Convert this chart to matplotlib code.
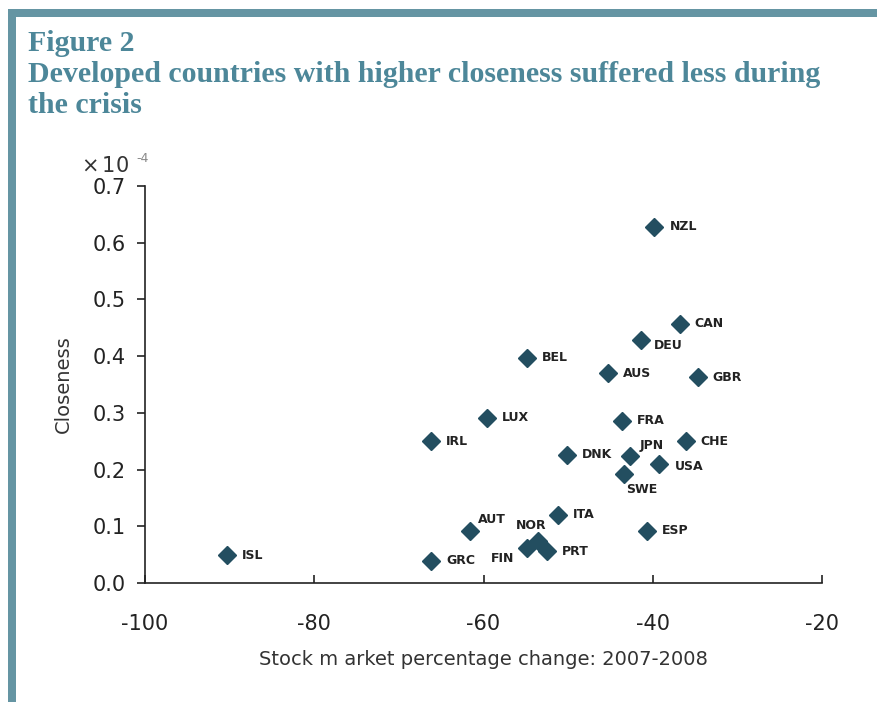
import matplotlib
matplotlib.use("Agg")
import matplotlib.pyplot as plt
from matplotlib.patches import Rectangle

# datos (closeness en unidades de 1e-4)
paises = ["NZL", "CAN", "DEU", "BEL", "AUS", "GBR", "LUX", "FRA", "IRL", "CHE",
          "DNK", "JPN", "USA", "SWE", "ITA", "AUT", "ESP", "NOR", "FIN", "PRT",
          "GRC", "ISL"]
cambio_bolsa = [-39.8, -36.8, -41.4, -54.9, -45.3, -34.7, -59.6, -43.6, -66.2, -36.1,
                -50.1, -42.7, -39.3, -43.4, -51.2, -61.6, -40.7, -53.6, -54.9, -52.5,
                -66.2, -90.3]
closeness = [0.628, 0.457, 0.429, 0.397, 0.370, 0.363, 0.291, 0.286, 0.250, 0.250,
             0.226, 0.224, 0.210, 0.192, 0.120, 0.092, 0.092, 0.074, 0.062, 0.056,
             0.039, 0.049]
xticks = [-100, -80, -60, -40, -20]
yticks = [0.0, 0.1, 0.2, 0.3, 0.4, 0.5, 0.6, 0.7]

# posicion de las etiquetas (pixeles desde el punto)
desplaza = {"DEU": (13, -6, "left"), "JPN": (10, 10, "left"), "USA": (16, -3, "left"),
            "SWE": (2, -15, "left"), "AUT": (8, 11, "left"), "NOR": (-6, 16, "center"),
            "FIN": (-12, -11, "right")}

azul = "#234e60"
borde = "#6595a3"

fig = plt.figure(figsize=(8.77, 7.02), dpi=100)
fig.add_artist(Rectangle((8 / 877, 0), 8 / 877, 1 - 9 / 702, transform=fig.transFigure,
                         color=borde, lw=0))
fig.add_artist(Rectangle((8 / 877, 1 - 17 / 702), 1, 8 / 702, transform=fig.transFigure,
                         color=borde, lw=0))

titulo = ["Figure 2", "Developed countries with higher closeness suffered less during",
          "the crisis"]
for i, linea in enumerate(titulo):
    fig.text(28 / 877, 1 - (51 + 31 * i) / 702, linea, fontsize=21.5, fontweight="bold",
             family="Liberation Serif", color="#4d8799", va="baseline", ha="left")

ax = fig.add_axes([145 / 877, 1 - 583 / 702, 677 / 877, 397 / 702])
ax.plot(cambio_bolsa, closeness, linestyle="none", marker="D", markersize=9.5,
        color=azul, markeredgecolor=azul)

for nombre, xv, yv in zip(paises, cambio_bolsa, closeness):
    dx, dy, ha = desplaza.get(nombre, (15, 0, "left"))
    ax.annotate(nombre, (xv, yv), xytext=(dx, dy), textcoords="offset pixels",
                ha=ha, va="center", fontsize=9, fontweight="bold", color="#222222")

ax.set_xlim(-100, -20)
ax.set_ylim(0, 0.7)
ax.set_xticks(xticks)
ax.set_yticks(yticks)
ax.set_xticklabels([str(t) for t in xticks])
ax.set_yticklabels(["%.1f" % t for t in yticks])
ax.spines["top"].set_visible(False)
ax.spines["right"].set_visible(False)
for s in ["left", "bottom"]:
    ax.spines[s].set_linewidth(1.2)
    ax.spines[s].set_color("#222222")
ax.tick_params(axis="x", direction="in", length=6, width=1.2, labelsize=15,
               pad=22, colors="#222222")
ax.tick_params(axis="y", direction="out", length=6, width=1.2, labelsize=15,
               pad=8, colors="#222222")
ax.set_xlabel("Stock m arket percentage change: 2007-2008", fontsize=14,
              color="#333333", labelpad=12)
ax.set_ylabel("Closeness", fontsize=14, color="#333333", labelpad=14)
ax.text(-0.095, 1.035, r"$\times\,$10", transform=ax.transAxes, fontsize=15,
        color="#333333", ha="left", va="baseline")
ax.text(-0.013, 1.06, "-4", transform=ax.transAxes, fontsize=9,
        color="#888888", ha="left", va="baseline")

plt.savefig("out.png", dpi=100)
